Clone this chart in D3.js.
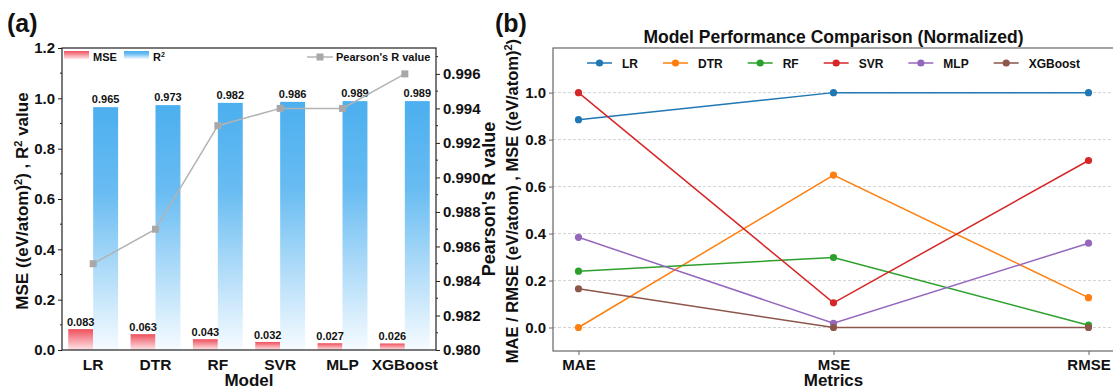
<!DOCTYPE html>
<html>
<head>
<meta charset="utf-8">
<script src="https://cdn.jsdelivr.net/npm/d3@7"></script>
<style>
  html, body { margin: 0; padding: 0; background: #ffffff; }
  svg { display: block; font-family: "Liberation Sans", Arial, sans-serif; }
  text { font-weight: bold; fill: #111; }
</style>
</head>
<body>
<svg id="chart" width="1113" height="390"></svg>
<script>
// ---------- data: panel (a) ----------
const models = ["LR", "DTR", "RF", "SVR", "MLP", "XGBoost"];
const mseValues = [0.083, 0.063, 0.043, 0.032, 0.027, 0.026];
const r2Values = [0.965, 0.973, 0.982, 0.986, 0.989, 0.989];
const pearsonValues = [0.985, 0.987, 0.993, 0.994, 0.994, 0.996];
const leftTicks = [0.0, 0.2, 0.4, 0.6, 0.8, 1.0, 1.2];
const rightTicks = [0.980, 0.982, 0.984, 0.986, 0.988, 0.990, 0.992, 0.994, 0.996];

// ---------- data: panel (b) ----------
const metrics = ["MAE", "MSE", "RMSE"];
const normLR = [0.885, 1.0, 1.0];
const normDTR = [0.0, 0.649, 0.127];
const normRF = [0.240, 0.298, 0.010];
const normSVR = [1.0, 0.105, 0.711];
const normMLP = [0.384, 0.018, 0.359];
const normXGBoost = [0.165, 0.0, 0.0];
const normTicks = [0.0, 0.2, 0.4, 0.6, 0.8, 1.0];
const seriesColors = ["#1f77b4", "#ff7f0e", "#2ca02c", "#d62728", "#9467bd", "#8c564b"];

const series = [normLR, normDTR, normRF, normSVR, normMLP, normXGBoost]
  .map((values, i) => ({ name: models[i], values, color: seriesColors[i] }));

const svg = d3.select("#chart");
const defs = svg.append("defs");

function gradient(id, stops) {
  const g = defs.append("linearGradient").attr("id", id)
    .attr("x1", 0).attr("y1", 0).attr("x2", 0).attr("y2", 1);
  stops.forEach(([o, c]) => g.append("stop").attr("offset", o).attr("stop-color", c));
}
gradient("gradBlue", [["0%", "#4cafef"], ["35%", "#68bcf2"], ["100%", "#f6fbff"]]);
gradient("gradRed", [["0%", "#ef4f5c"], ["100%", "#fde6e8"]]);

// =================== Panel (a) ===================
const A = { left: 62, right: 436, top: 48, bottom: 350 };
const xA = d3.scaleBand().domain(models).range([A.left, A.right]);
const yL = d3.scaleLinear().domain([0, 1.2]).range([A.bottom, A.top]);
const yR = d3.scaleLinear().domain([0.980, 0.9975]).range([A.bottom, A.top]);
const barW = xA.bandwidth() * 0.4;
const cx = m => xA(m) + xA.bandwidth() / 2;

const gA = svg.append("g");

// bars
gA.selectAll("rect.mse").data(models).join("rect")
  .attr("x", m => cx(m) - barW)
  .attr("y", (m, i) => yL(mseValues[i]))
  .attr("width", barW)
  .attr("height", (m, i) => yL(0) - yL(mseValues[i]))
  .attr("fill", "url(#gradRed)");
gA.selectAll("rect.r2").data(models).join("rect")
  .attr("x", m => cx(m))
  .attr("y", (m, i) => yL(r2Values[i]))
  .attr("width", barW)
  .attr("height", (m, i) => yL(0) - yL(r2Values[i]))
  .attr("fill", "url(#gradBlue)");

// bar value labels
gA.selectAll("text.mseLbl").data(models).join("text")
  .attr("x", m => cx(m) - barW / 2)
  .attr("y", (m, i) => yL(mseValues[i]) - 3)
  .attr("text-anchor", "middle").style("font-size", "11px")
  .text((m, i) => mseValues[i].toFixed(3));
gA.selectAll("text.r2Lbl").data(models).join("text")
  .attr("x", m => cx(m) + barW / 2)
  .attr("y", (m, i) => yL(r2Values[i]) - 4)
  .attr("text-anchor", "middle").style("font-size", "11px")
  .text((m, i) => r2Values[i].toFixed(3));

// Pearson's R line
const pearsonLine = d3.line().x((d, i) => cx(models[i])).y(d => yR(d));
gA.append("path").datum(pearsonValues).attr("d", pearsonLine)
  .attr("fill", "none").attr("stroke", "#b3b3b3").attr("stroke-width", 1.5);
gA.selectAll("rect.pr").data(pearsonValues).join("rect")
  .attr("x", (d, i) => cx(models[i]) - 3.5).attr("y", d => yR(d) - 3.5)
  .attr("width", 7).attr("height", 7).attr("fill", "#a8a8a8");

// frame
gA.append("rect").attr("x", A.left).attr("y", A.top)
  .attr("width", A.right - A.left).attr("height", A.bottom - A.top)
  .attr("fill", "none").attr("stroke", "#222").attr("stroke-width", 1.2);

// left axis
const axL = d3.axisLeft(yL).tickValues(leftTicks).tickFormat(d3.format(".1f")).tickSize(4).tickPadding(3);
const gL = gA.append("g").attr("transform", `translate(${A.left},0)`).call(axL);
gL.select(".domain").remove();
gL.selectAll("text").style("font-size", "15px").style("font-family", "Liberation Sans, Arial").style("font-weight", "bold").attr("fill", "#111");
gL.selectAll("line").attr("stroke", "#222");
// minor ticks on the left axis
gA.append("g").selectAll("line").data(d3.range(0.1, 1.2, 0.2)).join("line")
  .attr("x1", A.left - 2).attr("x2", A.left).attr("y1", d => yL(d)).attr("y2", d => yL(d)).attr("stroke", "#222");

// right axis
const axR = d3.axisRight(yR).tickValues(rightTicks).tickFormat(d3.format(".3f")).tickSize(4).tickPadding(3);
const gR = gA.append("g").attr("transform", `translate(${A.right},0)`).call(axR);
gR.select(".domain").remove();
gR.selectAll("text").style("font-size", "15px").style("font-family", "Liberation Sans, Arial").style("font-weight", "bold").attr("fill", "#111");
gR.selectAll("line").attr("stroke", "#222");
gA.append("g").selectAll("line").data(d3.range(0.981, 0.9975, 0.002)).join("line")
  .attr("x1", A.right).attr("x2", A.right + 2).attr("y1", d => yR(d)).attr("y2", d => yR(d)).attr("stroke", "#222");

// bottom axis
const axB = d3.axisBottom(xA).tickSize(0).tickPadding(9);
const gB = gA.append("g").attr("transform", `translate(0,${A.bottom})`).call(axB);
gB.select(".domain").remove();
gB.selectAll("text").style("font-size", "15.5px").style("font-family", "Liberation Sans, Arial").style("font-weight", "bold").attr("fill", "#111");

// axis titles
gA.append("text").attr("x", (A.left + A.right) / 2).attr("y", 386)
  .attr("text-anchor", "middle").style("font-size", "17px").text("Model");
const tL = gA.append("text").attr("transform", `translate(28,${(A.top + A.bottom) / 2 + 2}) rotate(-90)`)
  .attr("text-anchor", "middle").style("font-size", "17px");
tL.append("tspan").text("MSE ((eV/atom)");
tL.append("tspan").attr("dy", -6).style("font-size", "11px").text("2");
tL.append("tspan").attr("dy", 6).text(") , R");
tL.append("tspan").attr("dy", -6).style("font-size", "11px").text("2");
tL.append("tspan").attr("dy", 6).text(" value");
gA.append("text").attr("transform", `translate(495,${(A.top + A.bottom) / 2}) rotate(-90)`)
  .attr("text-anchor", "middle").style("font-size", "18px").text("Pearson's R value");

// legend (a)
gA.append("rect").attr("x", 64).attr("y", 51).attr("width", 25).attr("height", 8).attr("fill", "url(#gradRed)");
gA.append("text").attr("x", 93).attr("y", 61).style("font-size", "11px").text("MSE");
gA.append("rect").attr("x", 124).attr("y", 51).attr("width", 25).attr("height", 8).attr("fill", "url(#gradBlue)");
const r2Leg = gA.append("text").attr("x", 153).attr("y", 61).style("font-size", "11px");
r2Leg.append("tspan").text("R");
r2Leg.append("tspan").attr("dy", -4).style("font-size", "7px").text("2");
gA.append("line").attr("x1", 307).attr("x2", 333).attr("y1", 57).attr("y2", 57).attr("stroke", "#b3b3b3").attr("stroke-width", 1.5);
gA.append("rect").attr("x", 316.5).attr("y", 53.5).attr("width", 7).attr("height", 7).attr("fill", "#a8a8a8");
gA.append("text").attr("x", 336).attr("y", 61).style("font-size", "11px").text("Pearson's R value");

// panel label
svg.append("text").attr("x", 7).attr("y", 32).style("font-size", "25px").text("(a)");

// =================== Panel (b) ===================
const B = { left: 553, right: 1114, top: 48, bottom: 351 };
const xB = d3.scalePoint().domain(metrics).range([B.left, B.right]).padding(0.1);
const yB = d3.scaleLinear().domain([-0.1, 1.19]).range([B.bottom, B.top]);
const gP = svg.append("g");

// grid
gP.selectAll("line.grid").data(normTicks).join("line")
  .attr("x1", B.left).attr("x2", B.right).attr("y1", d => yB(d)).attr("y2", d => yB(d))
  .attr("stroke", "#c8c8c8").attr("stroke-width", 0.8).attr("stroke-dasharray", "3,2");

// series
const lineB = d3.line().x((d, i) => xB(metrics[i])).y(d => yB(d));
series.forEach(s => {
  gP.append("path").datum(s.values).attr("d", lineB)
    .attr("fill", "none").attr("stroke", s.color).attr("stroke-width", 1.5);
  gP.selectAll(null).data(s.values).join("circle")
    .attr("cx", (d, i) => xB(metrics[i])).attr("cy", d => yB(d)).attr("r", 3.6).attr("fill", s.color);
});

// frame
gP.append("rect").attr("x", B.left).attr("y", B.top)
  .attr("width", B.right - B.left).attr("height", B.bottom - B.top)
  .attr("fill", "none").attr("stroke", "#666").attr("stroke-width", 1.2);

const axBL = d3.axisLeft(yB).tickValues(normTicks).tickFormat(d3.format(".1f")).tickSize(4).tickPadding(3);
const gBL = gP.append("g").attr("transform", `translate(${B.left},0)`).call(axBL);
gBL.select(".domain").remove();
gBL.selectAll("text").style("font-size", "15px").style("font-family", "Liberation Sans, Arial").style("font-weight", "bold").attr("fill", "#111");
gBL.selectAll("line").attr("stroke", "#666");

const axBB = d3.axisBottom(xB).tickSize(4).tickPadding(4);
const gBB = gP.append("g").attr("transform", `translate(0,${B.bottom})`).call(axBB);
gBB.select(".domain").remove();
gBB.selectAll("text").style("font-size", "15px").style("font-family", "Liberation Sans, Arial").style("font-weight", "bold").attr("fill", "#111");
gBB.selectAll("line").attr("stroke", "#666");

gP.append("text").attr("x", (B.left + B.right) / 2).attr("y", 386)
  .attr("text-anchor", "middle").style("font-size", "17px").text("Metrics");
const tB = gP.append("text").attr("transform", `translate(518,201) rotate(-90)`)
  .attr("text-anchor", "middle").style("font-size", "16.5px");
tB.append("tspan").text("MAE / RMSE (eV/atom) , MSE ((eV/atom)");
tB.append("tspan").attr("dy", -6).style("font-size", "11px").text("2");
tB.append("tspan").attr("dy", 6).text(")");

gP.append("text").attr("x", (B.left + B.right) / 2).attr("y", 43)
  .attr("text-anchor", "middle").style("font-size", "17.5px").text("Model Performance Comparison (Normalized)");

// legend (b): entries flow left to right
let lx = 587;
series.forEach(s => {
  const g = gP.append("g").attr("transform", `translate(${lx},63)`);
  g.append("line").attr("x1", 0).attr("x2", 25).attr("stroke", s.color).attr("stroke-width", 1.5);
  g.append("circle").attr("cx", 12.5).attr("r", 3.6).attr("fill", s.color);
  const t = g.append("text").attr("x", 35).attr("y", 4.5).style("font-size", "12px").text(s.name);
  lx += 35 + t.node().getComputedTextLength() + 25;
});

svg.append("text").attr("x", 495).attr("y", 32).style("font-size", "25px").text("(b)");
</script>
</body>
</html>
